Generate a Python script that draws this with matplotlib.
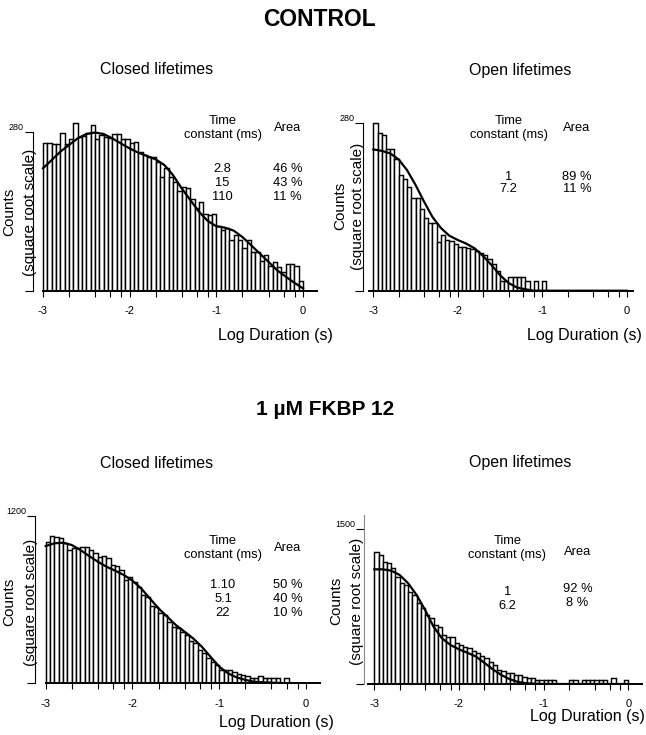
import numpy as np
import matplotlib
matplotlib.use("Agg")
import matplotlib.pyplot as plt
from matplotlib.ticker import FixedLocator

plt.rcParams['font.family'] = ['Liberation Sans', 'DejaVu Sans']

W, H = 646, 735

# log10 duration bins, 20 per decade
bin_width = 0.05
bin_left = -3 + bin_width * np.arange(60)
fit_x = np.round(np.arange(-3.0, 0.001, 0.1), 1)

# --- CONTROL, closed lifetimes
ctrl_closed_counts = [240, 243, 237, 237, 274, 237, 254, 310, 263, 265,
                      274, 304, 254, 268, 260, 257, 272, 272, 254, 254,
                      243, 246, 214, 204, 199, 197, 184, 144, 166, 142,
                      132, 109, 118, 116, 94, 75, 88, 66, 63, 66,
                      46, 41, 43, 29, 34, 28, 20, 28, 17, 17,
                      10, 14, 7, 9, 6, 4, 8, 8, 7, 1]
ctrl_closed_fit = [166, 189, 214, 235, 257, 272, 277, 272, 257, 240,
                   224, 211, 201, 191, 175, 148, 116, 91, 69, 54,
                   46, 44, 40, 32, 23, 15.4, 9.3, 4.7, 2.2, 0.7, 0.06]
ctrl_closed_tau = ["2.8", "15", "110"]
ctrl_closed_area = ["46 %", "43 %", "11 %"]

# --- CONTROL, open lifetimes
ctrl_open_counts = [278, 248, 240, 198, 198, 171, 133, 123, 107, 86,
                    86, 67, 52, 45, 46, 24, 31, 26, 25, 22,
                    19, 19, 18, 17, 16, 14, 13, 10, 7, 4,
                    1, 1, 2, 2, 2, 2, 1, 0, 1, 0,
                    1, 0, 0, 0, 0, 0, 0, 0, 0, 0,
                    0, 0, 0, 0, 0, 0, 0, 0, 0, 0]
ctrl_open_fit = [198, 194, 187, 171, 144, 111, 79, 54, 39, 30,
                 25.5, 22, 17.8, 11.9, 6.5, 2.4, 0.6, 0.1, 0.02, 0,
                 0, 0, 0, 0, 0, 0, 0, 0, 0, 0, 0]
ctrl_open_tau = ["1", "7.2"]
ctrl_open_area = ["89 %", "11 %"]

# --- 1 uM FKBP 12, closed lifetimes
fkbp_closed_counts = [857, 927, 910, 898, 837, 759, 778, 778, 797, 797,
                      759, 729, 677, 692, 667, 598, 588, 548, 456, 486,
                      441, 399, 333, 321, 255, 251, 213, 199, 162, 137,
                      129, 114, 100, 78, 68, 47, 38, 27, 20, 14,
                      8, 8, 7, 5, 4, 3, 2, 1, 1, 2,
                      1, 1, 1, 1, 0, 1, 0, 0, 0, 0]
fkbp_closed_fit = [805, 837, 845, 817, 759, 692, 632, 581, 542, 501,
                   450, 385, 308, 240, 190, 145, 114, 86, 57, 30,
                   11.9, 4.3, 1.5, 0.5, 0.1, 0.04, 0.02, 0.005, 0, 0, 0]
fkbp_closed_tau = ["1.10", "5.1", "22"]
fkbp_closed_area = ["50 %", "40 %", "10 %"]

# --- 1 uM FKBP 12, open lifetimes
fkbp_open_counts = [1093, 1039, 934, 909, 835, 719, 641, 612, 532, 494,
                    406, 357, 297, 269, 217, 205, 150, 140, 136, 103,
                    95, 87, 79, 69, 59, 49, 41, 31, 23, 13,
                    10, 8, 7, 5, 5, 3, 2, 2, 1, 1,
                    1, 1, 1, 0, 0, 0, 1, 1, 0, 1,
                    1, 1, 1, 1, 1, 0, 2, 0, 0, 1]
fkbp_open_fit = [821, 821, 802, 742, 633, 494, 342, 205, 130, 95,
                 75, 61, 47, 28, 13.4, 5.1, 1.4, 0.25, 0.03, 0.007,
                 0, 0, 0, 0, 0, 0, 0, 0, 0, 0, 0]
fkbp_open_tau = ["1", "6.2"]
fkbp_open_area = ["92 %", "8 %"]

fig = plt.figure(figsize=(W / 100, H / 100), dpi=100)


def ftext(x, y, s, **kw):
    kw.setdefault('ha', 'center')
    kw.setdefault('va', 'center')
    fig.text(x / W, 1 - y / H, s, **kw)


def panel(x3, x0, base, top, tval, spine_x, counts, fit, spine_top=None,
          spine_color='black'):
    xlim = (-3.12, 0.2)
    ppd = (x0 - x3) / 3.0
    left = x3 + (xlim[0] + 3) * ppd
    right = x3 + (xlim[1] + 3) * ppd
    ymax = 1.44 * tval
    height = (base - top) * np.sqrt(ymax / tval)
    ax = fig.add_axes([left / W, 1 - base / H, (right - left) / W, height / H])
    ax.set_yscale('function', functions=(lambda y: np.sqrt(np.clip(y, 0, None)),
                                          lambda y: np.square(y)))
    ax.bar(bin_left, counts, width=bin_width, align='edge',
           facecolor='white', edgecolor='black', linewidth=1.05, zorder=2)
    ax.plot(fit_x, fit, color='black', lw=1.6, zorder=3)
    ax.set_xlim(*xlim)
    ax.set_ylim(0, ymax)
    for s in ('top', 'right'):
        ax.spines[s].set_visible(False)
    ax.spines['bottom'].set_bounds(*spine_x)
    ax.spines['bottom'].set_linewidth(1.4)
    ax.spines['left'].set_bounds(0, spine_top if spine_top else tval)
    ax.spines['left'].set_linewidth(0.8)
    ax.spines['left'].set_color(spine_color)
    ax.set_xticks([-3, -2, -1, 0])
    ax.set_xticklabels(['-3', '-2', '-1', '0'], fontsize=8)
    minor = [d + np.log10(m) for d in (-3, -2, -1) for m in (2, 4, 6, 8)]
    ax.xaxis.set_minor_locator(FixedLocator(minor))
    ax.tick_params(axis='x', which='both', direction='out', length=4,
                   width=0.8, pad=7)
    ax.set_yticks([0, tval])
    ax.set_yticklabels(['', str(tval)], fontsize=6.5)
    ax.yaxis.set_minor_locator(FixedLocator([]))
    for lab in ax.get_yticklabels():
        lab.set_va('bottom')
    ax.tick_params(axis='y', direction='out', length=6, width=0.8, pad=0.5,
                   color='black')
    return ax


panel(43, 303, 290.7, 131.7, 280, (-3.0, 0.16), ctrl_closed_counts, ctrl_closed_fit)
panel(373.3, 626.7, 290.7, 122.7, 280, (-3.05, 0.08), ctrl_open_counts, ctrl_open_fit)
panel(45.7, 306, 683.3, 515.7, 1200, (-3.0, 0.16), fkbp_closed_counts, fkbp_closed_fit)
panel(374.3, 628.3, 684, 529, 1500, (-3.07, 0.16), fkbp_open_counts, fkbp_open_fit,
      spine_top=1780, spine_color='#8a8a8a')

# titles
ftext(320, 20, "CONTROL", fontsize=16.5, fontweight='bold')
ftext(325, 410, "1 µM FKBP 12", fontsize=15, fontweight='bold')
for y in (70, 463):
    ftext(157, y, "Closed lifetimes", fontsize=11.5)
    ftext(520, y, "Open lifetimes", fontsize=11.5)

# axis labels
for cx, sx, cy in ((9, 30, 212), (340, 358, 206), (9, 31, 602), (336, 357.5, 601)):
    ftext(cx, cy, "Counts", fontsize=11, rotation=90)
    ftext(sx, cy, "(square root scale)", fontsize=11, rotation=90)
for x, y in ((275, 335), (584, 335), (276, 723), (587, 717)):
    ftext(x, y, "Log Duration (s)", fontsize=11.5)

# fit tables
tables = [
    (222.5, 287.5, 128, 128, 183.2, 183.2, 1.22, ctrl_closed_tau, ctrl_closed_area),
    (508.5, 577, 128.3, 128, 183, 183, 1.1, ctrl_open_tau, ctrl_open_area),
    (223, 287.5, 548, 548, 599, 599, 1.24, fkbp_closed_tau, fkbp_closed_area),
    (507.5, 577.5, 548, 552, 599, 596, 1.24, fkbp_open_tau, fkbp_open_area),
]
for tx, axx, hy, ay, ny, nay, ls, taus, areas in tables:
    ftext(tx, hy, "Time\nconstant (ms)", fontsize=9.3, linespacing=1.24,
          multialignment='center')
    ftext(axx, ay, "Area", fontsize=9.3)
    ftext(tx, ny, "\n".join(taus), fontsize=9.3, linespacing=ls,
          multialignment='center')
    ftext(axx, nay, "\n".join(areas), fontsize=9.3, linespacing=ls,
          multialignment='center')

fig.savefig('out.png', dpi=100)
